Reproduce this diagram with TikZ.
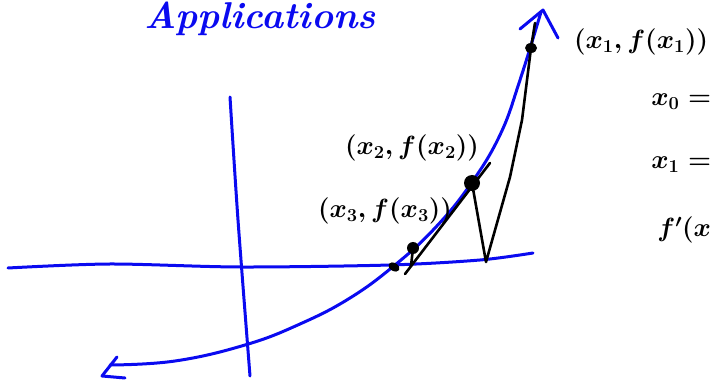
\documentclass[tikz,border=0pt]{standalone}
\usetikzlibrary{calc}
\definecolor{pen}{HTML}{0A0AF0}
\definecolor{ink}{HTML}{000000}
\tikzset{
  every picture/.style={line width=3pt, line cap=round, line join=round},
  axis/.style={draw=pen},
  curve/.style={draw=pen},
  tangent/.style={draw=ink, line width=2.6pt},
  pt/.style={fill=ink},
  lbl/.style={font=\fontsize{20.74}{23}\selectfont\boldmath, text=ink, inner sep=0pt, scale=1.27},
  title/.style={font=\fontsize{24.88}{28}\selectfont\bfseries\itshape, text=pen, inner sep=0pt, scale=1.5},
}

\begin{document}
\begin{tikzpicture}[x=1pt, y=-1pt]
  \useasboundingbox (0,0) rectangle (713,382);
  \node[title] (head) at (260,19) {Applications};
  % axes
  \draw[axis] plot[smooth] coordinates {(8,268) (110,264) (240,267) (390,265) (480,260) (533,253)};
  \draw[axis] plot[smooth] coordinates {(230,97) (238,220) (250,376)};
  % the function
  \draw[curve] plot[smooth, tension=0.7] coordinates {(110,365) (175,361) (245,345) (300,324) (350,298) (395,265) (435,228) (470,185) (500,135) (520,80) (541,12)};
  \draw[curve] (520,29) -- (543,10) -- (558,38);
  \draw[curve] (117,357) -- (102,376) -- (125,378);
  % newton steps
  \coordinate (p1) at (531,48);
  \coordinate (p2) at (472,183);
  \coordinate (p3) at (413,248);
  \coordinate (root) at (394,267);
  \draw[tangent] (535,23) -- (p1) -- (522,120) -- (510,177) -- (486,262) -- (p2);
  \draw[tangent] (490,163) -- (405,274);
  \draw[tangent] (p3) -- (411,266);
  \fill[pt] (p1) ellipse (6 and 5);
  \fill[pt] (p2) circle (8);
  \fill[pt] (p3) circle (6);
  \fill[pt, rotate around={-30:(root)}] (root) ellipse (6 and 4);
  % labels
  \node[lbl, anchor=east] (l1) at (710,42) {$(x_1,f(x_1))$};
  \node[lbl] (l2) at (412,148) {$(x_2,f(x_2))$};
  \node[lbl] (l3) at (385,211) {$(x_3,f(x_3))$};
  \node[lbl, anchor=east] (e0) at (713,102) {$x_0 =$};
  \node[lbl, anchor=east] (e1) at (713,165) {$x_1 =$};
  \node[lbl, anchor=east] (e2) at (713,230) {$f'(x$};
\end{tikzpicture}
\end{document}
